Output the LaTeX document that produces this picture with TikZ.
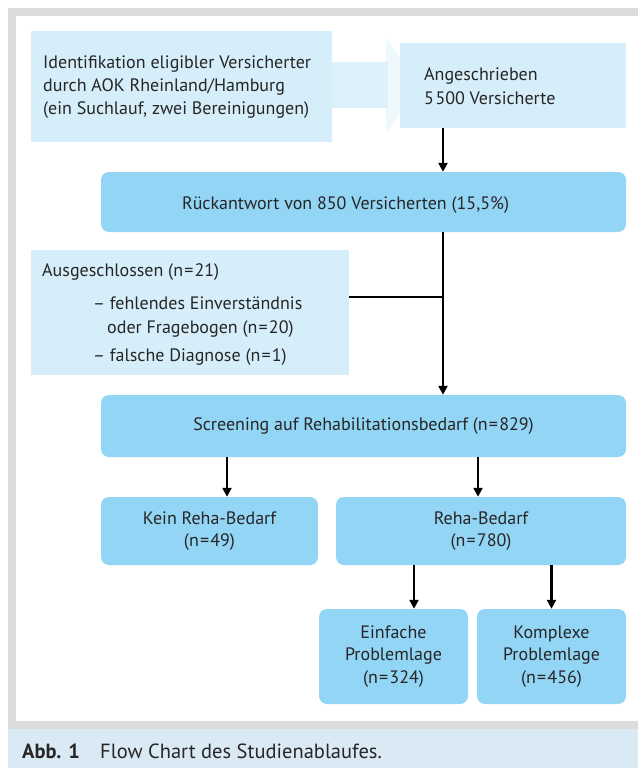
\documentclass[tikz,border=0pt]{standalone}
\usepackage{fontspec}
\setmainfont{PT Sans}
\usetikzlibrary{arrows.meta}
\definecolor{boxdark}{HTML}{93D5F5}
\definecolor{boxlight}{HTML}{D5EEFA}
\definecolor{arrlight}{HTML}{EEF8FD}
\definecolor{shaftlight}{HTML}{DDF1FB}
\definecolor{framegray}{HTML}{DCDCDC}
\definecolor{capblue}{HTML}{DAEAF4}
\definecolor{ink}{HTML}{262626}
\newcommand{\eqn}[1]{n\kern1.2pt=\kern1.2pt#1}
\tikzset{
  txt/.style={font=\fontsize{18}{22.5}\selectfont, text=ink},
  line/.style={txt, anchor=base west, inner sep=0pt},
  lightbox/.style={fill=boxlight, draw=none, inner sep=0pt},
  darkbox/.style={txt, fill=boxdark, draw=none, rounded corners=8pt, align=center, inner sep=0pt},
  arr/.style={line width=2.3pt, -{Triangle[length=9pt,width=9pt]}},
  ln/.style={line width=2.3pt},
}
\begin{document}
\begin{tikzpicture}[x=1pt,y=-1pt]
\useasboundingbox (0,0) rectangle (638,768);
% frame
\fill[framegray] (8,8) rectangle (638,729);
\fill[white] (16,16) rectangle (638,721);
\fill[capblue] (8,729) rectangle (638,768);
% block arrow between first boxes
\fill[arrlight] (330,62) -- (386,62) -- (386,37) -- (420,85) -- (386,133) -- (386,108) -- (330,108) -- cycle;
\fill[shaftlight] (330,62) rectangle (388,108);
% nodes
\node[lightbox, minimum width=301pt, minimum height=111pt] (ident) at (181,86.5) {};
\node[line] (i1) at (43,69) {Identifikation eligibler Versicherter};
\node[line] (i2) at (43,91.5) {durch AOK Rheinland/Hamburg};
\node[line] (i3) at (43,114) {(ein Suchlauf, zwei Bereinigungen)};
\node[lightbox, minimum width=226pt, minimum height=85pt] (ang) at (513,85.5) {};
\node[line] (g1) at (424,81) {Angeschrieben};
\node[line] (g2) at (424,104) {5\kern1.5pt500 Versicherte};
\node[darkbox, minimum width=525pt, minimum height=60pt] (rueck) at (363.5,202) {};
\node[line] (r1) at (182,209) {Rückantwort von 850 Versicherten (15,5\%)};
\node[lightbox, minimum width=318.5pt, minimum height=125pt] (aus) at (190,312.5) {};
\node[line] (a1) at (42,276) {Ausgeschlossen (\eqn{21})};
\node[line] (a2) at (93,309) {– fehlendes Einverständnis};
\node[line] (a3) at (107,333) {oder Fragebogen (\eqn{20})};
\node[line] (a4) at (93,361) {– falsche Diagnose (\eqn{1})};
\node[darkbox, minimum width=525pt, minimum height=62pt] (screen) at (363.5,426)
  {Screening auf Rehabilitationsbedarf (\eqn{829})};
\node[darkbox, minimum width=217pt, minimum height=68pt] (kein) at (209.5,531)
  {Kein Reha-Bedarf\\(\eqn{49})};
\node[darkbox, minimum width=290pt, minimum height=68pt] (reha) at (481,531)
  {Reha-Bedarf\\(\eqn{780})};
\node[darkbox, minimum width=149pt, minimum height=95pt] (einf) at (393.5,656.5)
  {Einfache\\Problemlage\\(\eqn{324})};
\node[darkbox, minimum width=149pt, minimum height=95pt] (komp) at (551.5,656.5)
  {Komplexe\\Problemlage\\(\eqn{456})};
% connectors
\coordinate (spine) at (443,0);
\draw[arr] (spine |- ang.south) -- (spine |- rueck.north);
\draw[arr] (spine |- rueck.south) -- (spine |- screen.north);
\coordinate (ausj) at ([yshift=15.5pt]aus.east);
\draw[ln] (ausj) -- (spine |- ausj);
\coordinate (ka) at ([xshift=17.5pt]kein.north);
\draw[arr] (ka |- screen.south) -- (ka);
\coordinate (ra) at ([xshift=-3pt]reha.north);
\draw[arr] (ra |- screen.south) -- (ra);
\coordinate (ea) at ([xshift=20.5pt]einf.north);
\draw[arr] (ea |- reha.south) -- (ea);
\draw[arr] (komp.north |- reha.south) -- (komp.north);
% caption
\node[anchor=base west, inner sep=0pt, text=ink, font=\fontsize{20.5}{24}\selectfont\bfseries] (abb) at (22,758) {Abb. 1};
\node[anchor=base west, inner sep=0pt, text=ink, font=\fontsize{20.5}{24}\selectfont] (cap) at (100,758) {Flow Chart des Studienablaufes.};
\end{tikzpicture}
\end{document}
